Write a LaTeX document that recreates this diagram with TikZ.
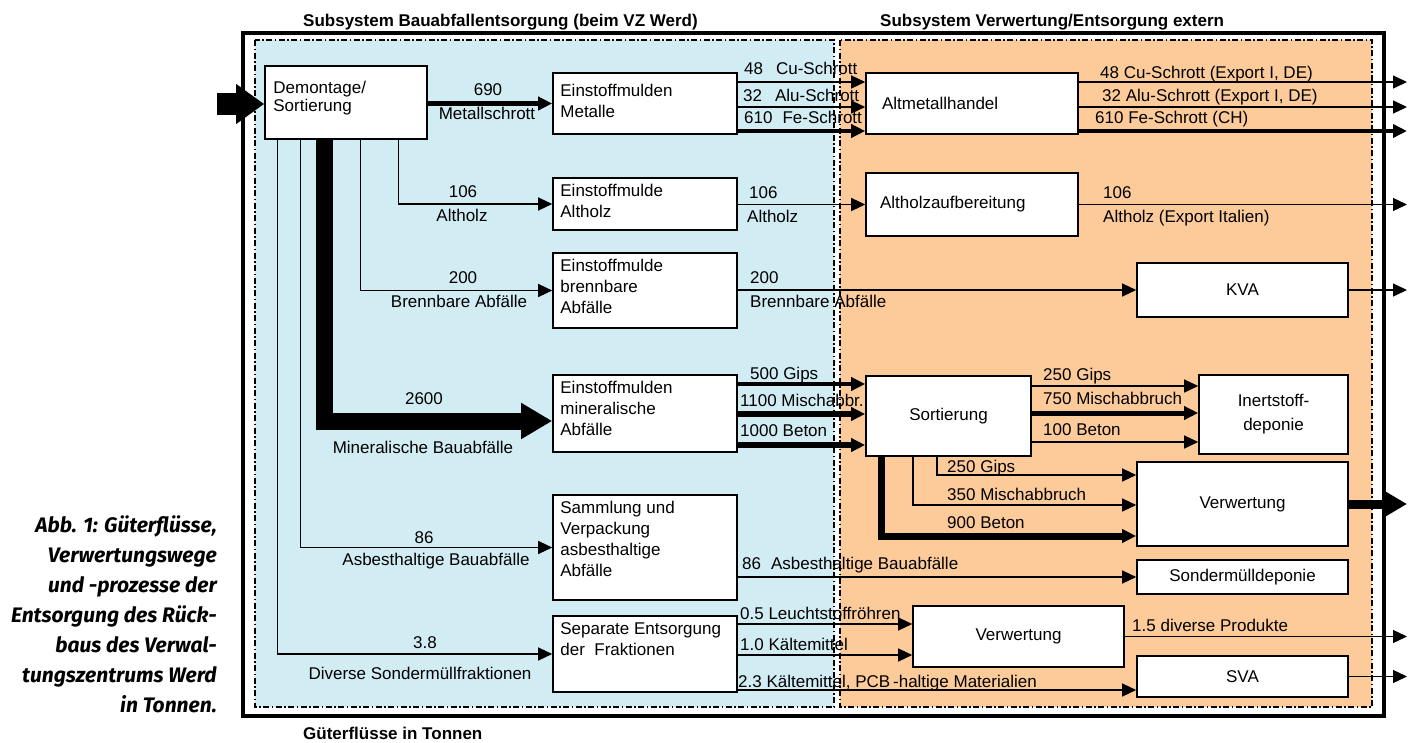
\documentclass[tikz,border=0pt]{standalone}
\usepackage{fontspec}
\setmainfont{Liberation Sans}
\newfontfamily\capfont{Fira Sans}
\usetikzlibrary{arrows.meta}

\definecolor{subblue}{RGB}{210,236,243}
\definecolor{suborange}{RGB}{252,203,153}

\tikzset{
  box/.style={draw=black, line width=1.6pt, fill=white, inner sep=0pt},
  mulde/.style={box, minimum width=184pt},
  extbox/.style={box, minimum width=211pt},
  boxtxt/.style={anchor=north west, align=left, inner sep=0pt, xshift=8pt, yshift=-7pt},
  lbl/.style={inner sep=0pt, text height=12.2pt, text depth=0pt},
  wlbl/.style={lbl, anchor=west},
  hdr/.style={wlbl, font=\fontsize{17}{21}\selectfont\bfseries},
  flow/.style={line width=1.3pt, -{Triangle[length=14pt,width=13pt]}},
  heavy/.style={flow, line width=#1},
  subsys/.style={line width=1.3pt, dash pattern=on 6pt off 2.5pt on 1.5pt off 2.5pt},
}

\begin{document}
\begin{tikzpicture}[x=1pt, y=-1pt, font=\fontsize{17}{21}\selectfont, line join=miter]
\useasboundingbox (0,0) rectangle (1417,742);

% Subsysteme
\fill[subblue] (255,40) rectangle (834,707);
\fill[suborange] (840,40) rectangle (1372,707);
\draw[subsys] (255,40) rectangle (834,707);
\draw[subsys] (840,40) rectangle (1372,707);
\draw[line width=4pt] (243,33) rectangle (1384,716);
\node[hdr] (hdrA) at (303,20) {Subsystem Bauabfallentsorgung (beim VZ Werd)};
\node[hdr] (hdrB) at (880,20) {Subsystem Verwertung/Entsorgung extern};
\node[hdr] (hdrC) at (303,733) {Güterflüsse in Tonnen};
\coordinate (exit) at (1407,0);

% Prozesse
\node[box, minimum width=162pt, minimum height=73pt,
  label={[boxtxt, xshift=1pt, yshift=-9pt, font=\fontsize{17}{18}\selectfont]north west:{Demontage/\\Sortierung}}] (demontage) at (346,102.5) {};
\node[mulde, minimum height=61pt, label={[boxtxt, yshift=-5pt]north west:{Einstoffmulden\\Metalle}}] (metalleM) at (645,103.5) {};
\node[mulde, minimum height=52pt, label={[boxtxt]north west:{Einstoffmulde\\Altholz}}] (altholzM) at (645,204) {};
\node[mulde, minimum height=75pt, label={[boxtxt]north west:{Einstoffmulde\\brennbare\\Abfälle}}] (brennM) at (645,290.5) {};
\node[mulde, minimum height=77pt, label={[boxtxt]north west:{Einstoffmulden\\mineralische\\Abfälle}}] (mineralM) at (645,413.5) {};
\node[mulde, minimum height=105pt, label={[boxtxt]north west:{Sammlung und\\Verpackung\\asbesthaltige\\Abfälle}}] (asbestM) at (645,547.5) {};
\node[mulde, minimum height=76pt, label={[boxtxt]north west:{Separate Entsorgung\\der\ \ Fraktionen}}] (sondM) at (645,654) {};

\node[box, minimum width=212pt, minimum height=61pt, text width=180pt, align=left] (altmetall) at (972,103.5) {Altmetallhandel};
\node[box, minimum width=212pt, minimum height=63pt, text width=184pt, align=left] (altholzA) at (972,204.5) {Altholzaufbereitung};
\node[box, minimum width=165pt, minimum height=80pt] (sortierung) at (948.5,416) {Sortierung};
\node[extbox, minimum height=54pt] (kva) at (1242.5,290) {KVA};
\node[box, minimum width=149pt, minimum height=79pt, align=center, font=\fontsize{17}{24}\selectfont] (inert) at (1273.5,414.5) {Inertstoff-\\deponie};
\node[extbox, minimum height=84pt] (verwertungB) at (1242.5,504) {Verwertung};
\node[extbox, minimum height=34pt] (sonderdep) at (1242.5,577) {Sondermülldeponie};
\node[extbox, minimum height=61pt] (verwertungS) at (1018.5,636.5) {Verwertung};
\node[extbox, minimum height=41pt] (sva) at (1242.5,676.5) {SVA};

% Flüsse ab Demontage
\draw[line width=22pt, -{Triangle[length=28pt,width=38pt]}] ([xshift=-47pt,yshift=-1.5pt]demontage.west) -- ([yshift=-1.5pt]demontage.west);
\draw[heavy=5pt] (demontage.east |- metalleM.west) -- (metalleM.west);
\draw[flow] ([xshift=134pt]demontage.south west) |- (altholzM.west);
\draw[flow] ([xshift=96pt]demontage.south west) |- (brennM.west);
\draw[line width=17pt, -{Triangle[length=31pt,width=34pt]}] ([xshift=60.5pt]demontage.south west) |- ([yshift=-7.5pt]mineralM.west);
\draw[flow] ([xshift=36pt]demontage.south west) |- (asbestM.west);
\draw[flow] ([xshift=13pt]demontage.south west) |- (sondM.west);
\node[lbl] (t690) at (488,89) {690};
\node[lbl] (tMetall) at (487,113) {Metallschrott};
\node[lbl] (t106) at (463,191) {106};
\node[lbl] (tHolz) at (462,215) {Altholz};
\node[lbl] (t200) at (463,277) {200};
\node[lbl] (tBrenn) at (459,301) {Brennbare Abfälle};
\node[lbl] (t2600) at (424,398) {2600};
\node[lbl] (tMineral) at (423,447) {Mineralische Bauabfälle};
\node[lbl] (t86) at (424,537) {86};
\node[lbl] (tAsbest) at (436,559) {Asbesthaltige Bauabfälle};
\node[lbl] (t38) at (425,642) {3.8};
\node[lbl] (tDivers) at (420,673) {Diverse Sondermüllfraktionen};

% Flüsse zur externen Verwertung
\draw[flow] (metalleM.east |- 0,82) -- (altmetall.west |- 0,82);
\draw[flow] (metalleM.east |- 0,107) -- (altmetall.west |- 0,107);
\draw[heavy=4.5pt] (metalleM.east |- 0,131) -- (altmetall.west |- 0,131);
\draw[flow] (altholzM.east |- altholzA.west) -- (altholzA.west);
\draw[flow] (brennM.east |- kva.west) -- (kva.west);
\draw[heavy=4pt] (mineralM.east |- 0,384) -- (sortierung.west |- 0,384);
\draw[heavy=6pt] (mineralM.east |- 0,414) -- (sortierung.west |- 0,414);
\draw[heavy=6pt] (mineralM.east |- 0,445) -- (sortierung.west |- 0,445);
\draw[flow] (asbestM.east |- sonderdep.west) -- (sonderdep.west);
\draw[flow] (sondM.east |- 0,624) -- (verwertungS.west |- 0,624);
\draw[flow] (sondM.east |- 0,655) -- (verwertungS.west |- 0,655);
\draw[flow] (sondM.east |- 0,690) -- (sva.west |- 0,690);
\node[wlbl] (tCu) at (744,68) {48\hspace{13pt}Cu-Schrott};
\node[wlbl] (tAlu) at (743,95) {32\hspace{13pt}Alu-Schrott};
\node[wlbl] (tFe) at (744,117) {610\hspace{10pt}Fe-Schrott};
\node[wlbl] (t106b) at (749,192) {106};
\node[wlbl] (tHolzb) at (747,216) {Altholz};
\node[wlbl] (t200b) at (750,277) {200};
\node[wlbl] (tBrennb) at (750,301) {Brennbare Abfälle};
\node[wlbl] (tGips) at (750,373) {500 Gips};
\node[wlbl] (tMisch) at (740,400) {1100 Mischabbr.};
\node[wlbl] (tBeton) at (740,430) {1000 Beton};
\node[wlbl] (tAsbestb) at (742,563) {86\hspace{10pt}Asbesthaltige Bauabfälle};
\node[wlbl] (tLeucht) at (740,613) {0.5 Leuchtstoffröhren};
\node[wlbl] (tKaelte) at (740,644) {1.0 Kältemittel};
\node[wlbl] (tPCB) at (738,681) {2.3 Kältemittel, PCB\,-haltige Materialien};

% Sortierung
\draw[flow] (sortierung.east |- 0,386) -- (inert.west |- 0,386);
\draw[heavy=5pt] (sortierung.east |- 0,413) -- (inert.west |- 0,413);
\draw[flow] (sortierung.east |- 0,442) -- (inert.west |- 0,442);
\draw[flow] (sortierung.south -| 937,0) |- (verwertungB.west |- 0,475);
\draw[flow] (sortierung.south -| 913,0) |- (verwertungB.west |- 0,505);
\draw[heavy=7pt] (sortierung.south -| 881,0) |- (verwertungB.west |- 0,536);
\node[wlbl] (tGipsI) at (1043,374) {250 Gips};
\node[wlbl] (tMischI) at (1043,398) {750 Mischabbruch};
\node[wlbl] (tBetonI) at (1043,429) {100 Beton};
\node[wlbl] (tGipsV) at (947,466) {250 Gips};
\node[wlbl] (tMischV) at (947,494) {350 Mischabbruch};
\node[wlbl] (tBetonV) at (947,522) {900 Beton};

% Exporte
\draw[flow] (altmetall.east |- 0,82) -- (exit |- 0,82);
\draw[flow] (altmetall.east |- 0,107) -- (exit |- 0,107);
\draw[heavy=4.5pt] (altmetall.east |- 0,131) -- (exit |- 0,131);
\draw[flow] (altholzA.east) -- (exit |- altholzA.east);
\draw[flow] (kva.east) -- (exit |- kva.east);
\draw[line width=9pt, -{Triangle[length=22pt,width=24pt]}] (verwertungB.east) -- (exit |- verwertungB.east);
\draw[flow] (verwertungS.east) -- (exit |- verwertungS.east);
\draw[flow] (sva.east) -- (exit |- sva.east);
\node[wlbl] (tCuEx) at (1100,72) {48 Cu-Schrott (Export I, DE)};
\node[wlbl] (tAluEx) at (1102,95) {32 Alu-Schrott (Export I, DE)};
\node[wlbl] (tFeEx) at (1095,117) {610 Fe-Schrott (CH)};
\node[wlbl] (t106Ex) at (1103,192) {106};
\node[wlbl] (tHolzEx) at (1103,216) {Altholz (Export Italien)};
\node[wlbl] (tProdukte) at (1132,625) {1.5 diverse Produkte};

% Legende
\node[anchor=north east, align=right, inner sep=0pt,
  font=\capfont\bfseries\itshape\fontsize{21}{30}\selectfont] (caption) at (217,516)
  {Abb. 1: Güterflüsse,\\Verwertungswege\\und -prozesse der\\Entsorgung des Rück-\\baus des Verwal-\\tungszentrums Werd\\in Tonnen.};
\end{tikzpicture}
\end{document}
